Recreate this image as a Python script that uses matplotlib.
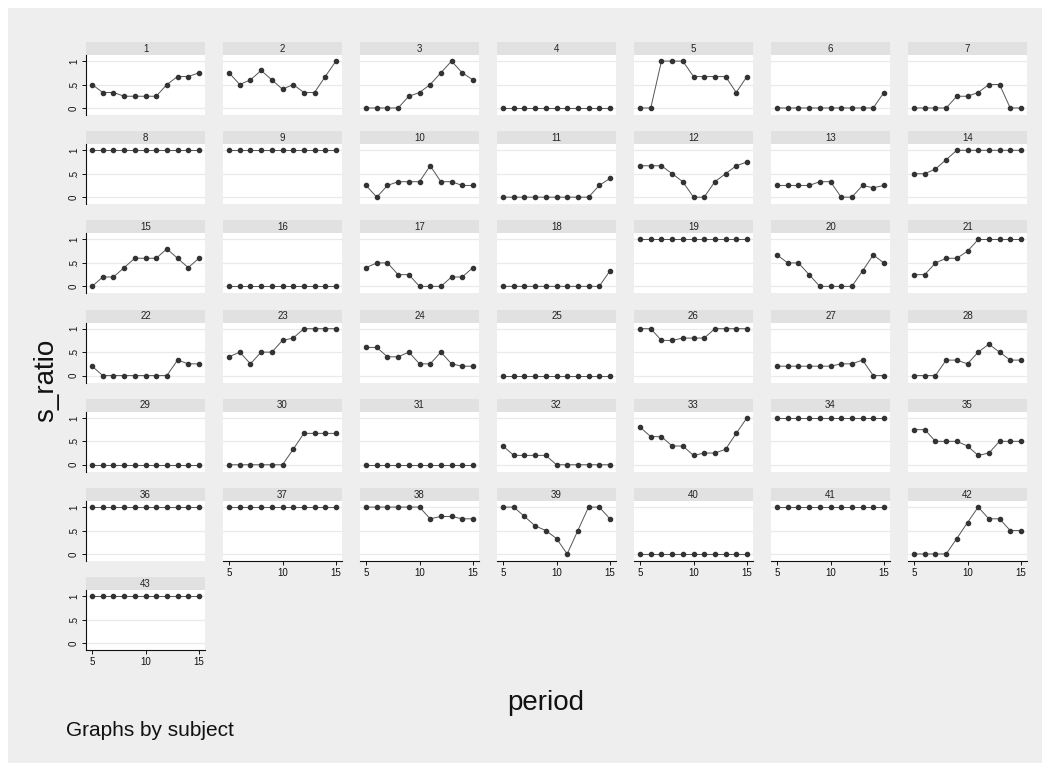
import matplotlib
matplotlib.use('Agg')
import matplotlib.pyplot as plt
from matplotlib.patches import Rectangle

# s_ratio by period, one small list per subject
periods = [5, 6, 7, 8, 9, 10, 11, 12, 13, 14, 15]

subject_01 = [0.5, 0.33, 0.33, 0.25, 0.25, 0.25, 0.25, 0.5, 0.67, 0.67, 0.75]
subject_02 = [0.75, 0.5, 0.6, 0.8, 0.6, 0.4, 0.5, 0.33, 0.33, 0.67, 1.0]
subject_03 = [0, 0, 0, 0, 0.25, 0.33, 0.5, 0.75, 1.0, 0.75, 0.6]
subject_04 = [0, 0, 0, 0, 0, 0, 0, 0, 0, 0, 0]
subject_05 = [0, 0, 1, 1, 1, 0.67, 0.67, 0.67, 0.67, 0.33, 0.67]
subject_06 = [0, 0, 0, 0, 0, 0, 0, 0, 0, 0, 0.33]
subject_07 = [0, 0, 0, 0, 0.25, 0.25, 0.33, 0.5, 0.5, 0, 0]
subject_08 = [1, 1, 1, 1, 1, 1, 1, 1, 1, 1, 1]
subject_09 = [1, 1, 1, 1, 1, 1, 1, 1, 1, 1, 1]
subject_10 = [0.25, 0, 0.25, 0.33, 0.33, 0.33, 0.67, 0.33, 0.33, 0.25, 0.25]
subject_11 = [0, 0, 0, 0, 0, 0, 0, 0, 0, 0.25, 0.4]
subject_12 = [0.67, 0.67, 0.67, 0.5, 0.33, 0, 0, 0.33, 0.5, 0.67, 0.75]
subject_13 = [0.25, 0.25, 0.25, 0.25, 0.33, 0.33, 0, 0, 0.25, 0.2, 0.25]
subject_14 = [0.5, 0.5, 0.6, 0.8, 1, 1, 1, 1, 1, 1, 1]
subject_15 = [0, 0.2, 0.2, 0.4, 0.6, 0.6, 0.6, 0.8, 0.6, 0.4, 0.6]
subject_16 = [0, 0, 0, 0, 0, 0, 0, 0, 0, 0, 0]
subject_17 = [0.4, 0.5, 0.5, 0.25, 0.25, 0, 0, 0, 0.2, 0.2, 0.4]
subject_18 = [0, 0, 0, 0, 0, 0, 0, 0, 0, 0, 0.33]
subject_19 = [1, 1, 1, 1, 1, 1, 1, 1, 1, 1, 1]
subject_20 = [0.67, 0.5, 0.5, 0.25, 0, 0, 0, 0, 0.33, 0.67, 0.5]
subject_21 = [0.25, 0.25, 0.5, 0.6, 0.6, 0.75, 1, 1, 1, 1, 1]
subject_22 = [0.2, 0, 0, 0, 0, 0, 0, 0, 0.33, 0.25, 0.25]
subject_23 = [0.4, 0.5, 0.25, 0.5, 0.5, 0.75, 0.8, 1, 1, 1, 1]
subject_24 = [0.6, 0.6, 0.4, 0.4, 0.5, 0.25, 0.25, 0.5, 0.25, 0.2, 0.2]
subject_25 = [0, 0, 0, 0, 0, 0, 0, 0, 0, 0, 0]
subject_26 = [1, 1, 0.75, 0.75, 0.8, 0.8, 0.8, 1, 1, 1, 1]
subject_27 = [0.2, 0.2, 0.2, 0.2, 0.2, 0.2, 0.25, 0.25, 0.33, 0, 0]
subject_28 = [0, 0, 0, 0.33, 0.33, 0.25, 0.5, 0.67, 0.5, 0.33, 0.33]
subject_29 = [0, 0, 0, 0, 0, 0, 0, 0, 0, 0, 0]
subject_30 = [0, 0, 0, 0, 0, 0, 0.33, 0.67, 0.67, 0.67, 0.67]
subject_31 = [0, 0, 0, 0, 0, 0, 0, 0, 0, 0, 0]
subject_32 = [0.4, 0.2, 0.2, 0.2, 0.2, 0, 0, 0, 0, 0, 0]
subject_33 = [0.8, 0.6, 0.6, 0.4, 0.4, 0.2, 0.25, 0.25, 0.33, 0.67, 1]
subject_34 = [1, 1, 1, 1, 1, 1, 1, 1, 1, 1, 1]
subject_35 = [0.75, 0.75, 0.5, 0.5, 0.5, 0.4, 0.2, 0.25, 0.5, 0.5, 0.5]
subject_36 = [1, 1, 1, 1, 1, 1, 1, 1, 1, 1, 1]
subject_37 = [1, 1, 1, 1, 1, 1, 1, 1, 1, 1, 1]
subject_38 = [1, 1, 1, 1, 1, 1, 0.75, 0.8, 0.8, 0.75, 0.75]
subject_39 = [1, 1, 0.8, 0.6, 0.5, 0.33, 0, 0.5, 1, 1, 0.75]
subject_40 = [0, 0, 0, 0, 0, 0, 0, 0, 0, 0, 0]
subject_41 = [1, 1, 1, 1, 1, 1, 1, 1, 1, 1, 1]
subject_42 = [0, 0, 0, 0, 0.33, 0.67, 1, 0.75, 0.75, 0.5, 0.5]
subject_43 = [1, 1, 1, 1, 1, 1, 1, 1, 1, 1, 1]

subjects = [subject_01, subject_02, subject_03, subject_04, subject_05, subject_06,
            subject_07, subject_08, subject_09, subject_10, subject_11, subject_12,
            subject_13, subject_14, subject_15, subject_16, subject_17, subject_18,
            subject_19, subject_20, subject_21, subject_22, subject_23, subject_24,
            subject_25, subject_26, subject_27, subject_28, subject_29, subject_30,
            subject_31, subject_32, subject_33, subject_34, subject_35, subject_36,
            subject_37, subject_38, subject_39, subject_40, subject_41, subject_42,
            subject_43]

x_ticks = [5, 10, 15]
y_ticks = [0, 0.5, 1]
y_tick_labels = ['0', '.5', '1']

W, H = 1050, 771
NCOL = 7
n = len(subjects)

plt.rcParams['font.family'] = ['Liberation Sans', 'DejaVu Sans']

fig = plt.figure(figsize=(W / 100, H / 100), dpi=100, facecolor='white')
fig.patches.append(Rectangle((8 / W, 8 / H), 1 - 16 / W, 1 - 16 / H,
                             transform=fig.transFigure, facecolor='#EEEEEE',
                             edgecolor='none', zorder=-10))


def box(x, y, w, h):
    # pixel box (top-left origin) to figure fraction
    return [x / W, 1 - (y + h) / H, w / W, h / H]


for i, vals in enumerate(subjects):
    r, c = divmod(i, NCOL)
    left = 86 + 137 * c
    top = 42 + 89.2 * r
    pw = 119

    strip = fig.add_axes(box(left, top, pw, 13))
    strip.set_facecolor('#E1E1E1')
    strip.set_xticks([])
    strip.set_yticks([])
    for s in strip.spines.values():
        s.set_visible(False)
    strip.text(0.5, 0.5, str(i + 1), ha='center', va='center', fontsize=7,
               color='#222222', transform=strip.transAxes)

    ax = fig.add_axes(box(left, top + 13, pw, 60))
    ax.set_facecolor('white')
    for yv in y_ticks:
        ax.axhline(yv, color='#EAEAEA', lw=0.9, zorder=1)
    ax.plot(periods, vals, color='#555555', lw=0.7, zorder=2)
    ax.plot(periods, vals, 'o', color='#333333', ms=3.0, zorder=3)
    ax.set_xlim(4.43, 15.57)
    ax.set_ylim(-0.15, 1.13)

    for s in ax.spines.values():
        s.set_visible(False)

    # bottom panel of each column gets the x axis
    is_bottom = i + NCOL >= n
    if is_bottom:
        ax.spines['bottom'].set_visible(True)
        ax.spines['bottom'].set_color('#111111')
        ax.spines['bottom'].set_linewidth(0.8)
        ax.set_xticks(x_ticks)
        ax.tick_params(axis='x', length=3, width=0.7, labelsize=7, pad=2,
                       colors='#111111')
    else:
        ax.set_xticks([])

    if c == 0:
        ax.spines['left'].set_visible(True)
        ax.spines['left'].set_color('#111111')
        ax.spines['left'].set_linewidth(0.8)
        ax.set_yticks(y_ticks)
        ax.set_yticklabels(y_tick_labels, rotation=90, va='center')
        ax.tick_params(axis='y', length=3, width=0.7, labelsize=7, pad=2,
                       colors='#111111')
    else:
        ax.set_yticks([])

fig.text(46 / W, 1 - 380 / H, 's_ratio', rotation=90, ha='center', va='center',
         fontsize=20, color='#111111')
fig.text(546 / W, 1 - 703 / H, 'period', ha='center', va='center',
         fontsize=20, color='#111111')
fig.text(66 / W, 1 - 731 / H, 'Graphs by subject', ha='left', va='center',
         fontsize=15, color='#111111')

fig.savefig('out.png', dpi=100, facecolor=fig.get_facecolor())
